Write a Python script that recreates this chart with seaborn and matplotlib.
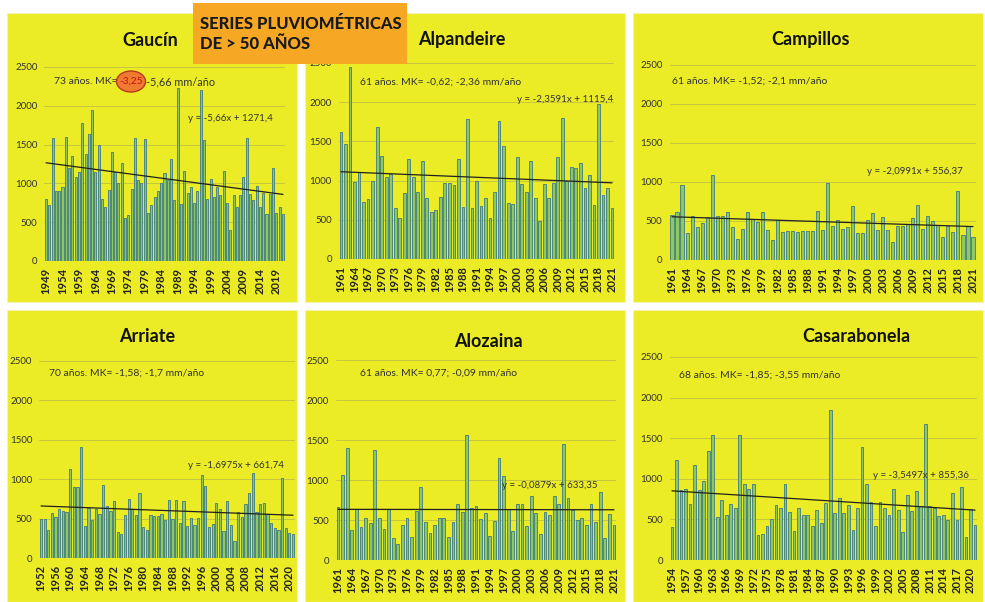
import numpy as np
import pandas as pd
import matplotlib
matplotlib.use('Agg')
import matplotlib.pyplot as plt
import seaborn as sns
from matplotlib.patches import Rectangle, Ellipse

sns.set_theme(style='white')
plt.rcParams['font.family'] = ['Lato', 'DejaVu Sans']

# ---------------- data ----------------
stations = ['Gaucín', 'Alpandeire', 'Campillos', 'Arriate', 'Alozaina', 'Casarabonela']
start_years = [1949, 1961, 1961, 1952, 1961, 1954]
tick_steps = [5, 3, 3, 4, 3, 3]

gaucin = [800, 720, 1590, 900, 900, 950, 1600, 1200, 1350, 1080, 1150, 1780, 1380, 1640, 1940,
          1150, 1500, 800, 700, 910, 1400, 1150, 1000, 1260, 560, 590, 930, 1590, 1040, 1000,
          1570, 620, 720, 820, 900, 1000, 1130, 1050, 1310, 780, 2230, 740, 1160, 880, 960,
          750, 900, 2200, 1560, 800, 1060, 820, 960, 850, 1160, 750, 400, 850, 700, 850,
          1080, 1590, 860, 780, 970, 700, 880, 600, 860, 1200, 620, 690, 600]
alpandeire = [1620, 1470, 2450, 980, 1110, 730, 760, 1000, 1680, 1320, 1040, 1090, 650, 520, 840,
              1280, 1040, 860, 1250, 780, 600, 630, 790, 970, 970, 950, 1270, 660, 1780, 650,
              990, 670, 780, 520, 860, 1760, 1440, 710, 700, 1300, 960, 850, 1250, 780, 480,
              960, 780, 970, 1300, 1800, 1000, 1170, 1160, 1220, 900, 1070, 690, 1980, 820, 900, 650]
campillos = [580, 620, 960, 350, 560, 420, 480, 550, 1090, 570, 560, 620, 420, 270, 400,
             610, 530, 490, 620, 380, 260, 510, 360, 370, 370, 360, 370, 370, 370, 630,
             380, 990, 440, 510, 400, 420, 690, 350, 340, 510, 600, 390, 550, 380, 230,
             440, 440, 460, 540, 700, 400, 570, 500, 450, 300, 440, 360, 890, 320, 430, 300]
arriate = [500, 500, 350, 570, 520, 620, 600, 580, 1130, 900, 900, 1410, 400, 640, 480,
           620, 560, 930, 660, 600, 720, 330, 300, 540, 750, 620, 550, 820, 390, 350,
           540, 530, 530, 560, 480, 740, 500, 740, 440, 720, 400, 510, 420, 510, 1050,
           920, 390, 430, 700, 620, 340, 720, 420, 220, 580, 520, 680, 830, 1080, 580,
           680, 700, 560, 450, 380, 350, 1010, 380, 320, 300]
alozaina = [660, 1060, 1400, 380, 640, 410, 530, 460, 1370, 520, 390, 640, 280, 200, 440,
            520, 290, 610, 910, 470, 340, 440, 530, 520, 290, 480, 700, 600, 1560, 650,
            670, 510, 590, 300, 490, 1280, 1050, 640, 360, 700, 700, 420, 800, 590, 330,
            600, 560, 800, 700, 1450, 770, 620, 500, 520, 440, 700, 480, 850, 270, 580, 440]
casarabonela = [410, 1230, 860, 880, 690, 1170, 860, 970, 1340, 1540, 530, 740, 560, 690, 640,
                1540, 930, 880, 930, 310, 320, 420, 510, 680, 640, 930, 590, 360, 640, 560,
                560, 420, 610, 450, 700, 1850, 580, 760, 580, 680, 370, 640, 1390, 930, 720,
                420, 710, 640, 550, 880, 620, 350, 800, 600, 850, 670, 1670, 670, 640, 540,
                550, 490, 830, 490, 900, 280, 630, 430]
series = [gaucin, alpandeire, campillos, arriate, alozaina, casarabonela]

n_years = [73, 61, 61, 70, 61, 68]
mk_values = ['-3,25', '-0,62', '-1,52', '-1,58', '0,77', '-1,85']
mm_values = ['-5,66', '-2,36', '-2,1', '-1,7', '-0,09', '-3,55']
slopes = [-5.66, -2.3591, -2.0991, -1.6975, -0.0879, -3.5497]
intercepts = [1271.4, 1115.4, 556.37, 661.74, 633.35, 855.36]
eq_texts = ['y = -5,66x + 1271,4', 'y = -2,3591x + 1115,4', 'y = -2,0991x + 556,37',
            'y = -1,6975x + 661,74', 'y = -0,0879x + 633,35', 'y = -3,5497x + 855,36']
y_ticks = [0, 500, 1000, 1500, 2000, 2500]
main_title = 'SERIES PLUVIOMÉTRICAS\nDE > 50 AÑOS'

# ---------------- layout (pixels) ----------------
W, H = 985, 602
YELLOW = '#ecec26'
BAR_FILL = '#8fc85e'
BAR_EDGE = '#3d7a88'

panels = [(7, 13, 297, 302), (305, 13, 625, 302), (633, 13, 983, 302),
          (7, 310, 297, 602), (305, 310, 625, 602), (633, 310, 983, 602)]
axes_px = [(44.4, 284.6, 67, 261), (338.7, 614.3, 63, 259), (669.5, 975.5, 65, 260),
           (39.2, 294.8, 361, 558), (335.7, 616.3, 360, 560), (669.7, 977.3, 357, 560)]
title_pos = [(150, 40), (462, 40), (810, 40), (147, 337), (488, 342), (856, 337)]
mk_pos = [(54, 82), (360, 82), (672, 81), (49, 373), (360, 373), (679, 375)]
eq_pos = [(188, 118), (517, 100), (867, 172), (188, 465), (502, 485), (873, 475)]


def fx(x):
    return x / W


def fy(y):
    return 1 - y / H


fig = plt.figure(figsize=(W / 100, H / 100), dpi=100)
fig.patch.set_facecolor('white')

for (x0, y0, x1, y1) in panels:
    fig.add_artist(Rectangle((fx(x0), fy(y1)), (x1 - x0) / W, (y1 - y0) / H,
                             transform=fig.transFigure, facecolor=YELLOW,
                             edgecolor='#f4f4b0', lw=0.8, zorder=-10))

for i, vals in enumerate(series):
    l, r, t, b = axes_px[i]
    ax = fig.add_axes([fx(l), fy(b), (r - l) / W, (b - t) / H])
    ax.set_facecolor('none')
    years = np.arange(start_years[i], start_years[i] + len(vals))
    df = pd.DataFrame({'year': years.astype(str), 'pp': vals})
    sns.barplot(data=df, x='year', y='pp', ax=ax, color=BAR_FILL, saturation=1,
                width=0.62, edgecolor=BAR_EDGE, linewidth=0.6, zorder=2)
    n = len(vals)
    xs = np.array([0, n - 1])
    ax.plot(xs, slopes[i] * (xs + 1) + intercepts[i], color='#202020', lw=0.9, zorder=3)
    ax.set_xlim(-0.5, n - 0.5)
    ax.set_ylim(0, 2500)
    ax.set_yticks(y_ticks)
    ax.set_yticklabels([str(v) for v in y_ticks], fontsize=7, color='#333333')
    pos = np.arange(0, n, tick_steps[i])
    ax.set_xticks(pos)
    ax.set_xticklabels([str(years[p]) for p in pos], rotation=90, fontsize=8,
                       fontweight='bold', color='#222222')
    ax.tick_params(axis='both', length=0)
    ax.tick_params(axis='y', pad=5)
    ax.tick_params(axis='x', pad=5)
    for yv in y_ticks[1:]:
        ax.axhline(yv, color='#bfbf45', lw=0.6, zorder=1)
    ax.axhline(0, color='#a0a070', lw=0.8, zorder=3)
    for s in ax.spines.values():
        s.set_visible(False)
    ax.set_xlabel('')
    ax.set_ylabel('')

    tx, ty = title_pos[i]
    fig.text(fx(tx), fy(ty), stations[i], ha='center', va='center', fontsize=13,
             fontweight='bold', color='#111111')
    ex, ey = eq_pos[i]
    fig.text(fx(ex), fy(ey), eq_texts[i], ha='left', va='center', fontsize=7,
             color='#333333')
    mx, my = mk_pos[i]
    if i == 0:
        fig.text(fx(mx), fy(my), f'{n_years[i]} años. MK=', ha='left', va='center',
                 fontsize=7.5, color='#333333')
        fig.add_artist(Ellipse((fx(131), fy(81.5)), 29 / W, 21 / H, transform=fig.transFigure,
                               facecolor='#f07a32', edgecolor='#b83a1a', lw=1.0, zorder=4))
        fig.text(fx(131), fy(81.5), mk_values[i], ha='center', va='center', fontsize=7.2,
                 color='#c81010', zorder=5)
        fig.text(fx(146), fy(my), f'{mm_values[i]} mm/año', ha='left', va='center',
                 fontsize=7.8, color='#333333')
    else:
        fig.text(fx(mx), fy(my), f'{n_years[i]} años. MK= {mk_values[i]}; {mm_values[i]} mm/año',
                 ha='left', va='center', fontsize=7.5, color='#333333')

fig.add_artist(Rectangle((fx(193), fy(64)), (407 - 193) / W, (64 - 3) / H,
                         transform=fig.transFigure, facecolor='#f6a824', edgecolor='none',
                         zorder=8))
fig.text(fx(200), fy(34), main_title, ha='left', va='center', fontsize=12,
         fontweight='black', color='#1a1a1a', linespacing=1.35, zorder=9)

fig.savefig('out.png', dpi=100, facecolor='white')
